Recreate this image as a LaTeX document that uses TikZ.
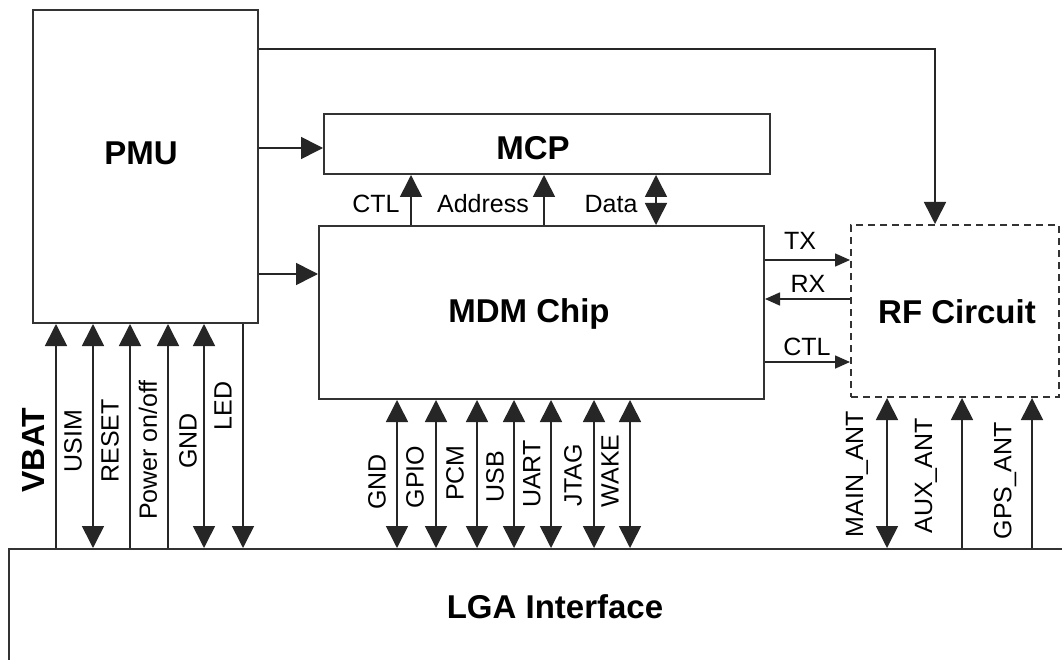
\documentclass[tikz,border=0pt]{standalone}
\usepackage{fontspec}
\setmainfont{Liberation Sans}
\usetikzlibrary{arrows.meta}
\tikzset{
  bigtip/.tip={Triangle[length=22pt,width=22pt]},
  smalltip/.tip={Triangle[length=15pt,width=13pt]},
  box/.style={draw=black!80, line width=2pt, inner sep=0pt, anchor=north west},
  rfbox/.style={box, dash pattern=on 7pt off 5pt},
  conn/.style={draw=black!85, line width=1.6pt},
  title/.style={font=\fontsize{33}{38}\selectfont\bfseries, anchor=base, inner sep=0pt},
  lbl/.style={font=\fontsize{25}{30}\selectfont, anchor=base, inner sep=0pt},
  vlbl/.style={font=\fontsize{25}{30}\selectfont, rotate=90, anchor=center, inner sep=0pt},
}
\begin{document}
\begin{tikzpicture}[x=1pt,y=-1pt]
\useasboundingbox (0,0) rectangle (1062,660);
\fill[white] (0,0) rectangle (1062,660);

% boxes
\node[box, minimum width=225pt, minimum height=313pt] (pmu) at (32,9) {};
\node[box, minimum width=446pt, minimum height=60pt] (mcp) at (323,113) {};
\node[box, minimum width=445pt, minimum height=173pt] (mdm) at (318,225) {};
\node[rfbox, minimum width=208pt, minimum height=172pt] (rf) at (850,224) {};
\node[box, minimum width=1070pt, minimum height=112pt] (lga) at (8,548) {};

% titles
\node[title] (pmut) at (141,165) {PMU};
\node[title] (mcpt) at (533,160) {MCP};
\node[title] (mdmt) at (529,322) {MDM Chip};
\node[title] (rft) at (957,323) {RF Circuit};
\node[title] (lgat) at (555,618) {LGA Interface};

% PMU outputs
\draw[conn, -bigtip] (pmu.east |- 0,49) -| (935,0 |- rf.north);
\draw[conn, -bigtip] (pmu.east |- 0,148) -- (mcp.west |- 0,148);
\draw[conn, -bigtip] (pmu.east |- 0,274) -- (mdm.west |- 0,274);

% MDM <-> MCP
\draw[conn, -bigtip] (411,0 |- mdm.north) -- (411,0 |- mcp.south);
\draw[conn, -bigtip] (544,0 |- mdm.north) -- (544,0 |- mcp.south);
\draw[conn, bigtip-bigtip] (656,0 |- mdm.north) -- (656,0 |- mcp.south);
\node[lbl] (ctl1) at (376,213) {CTL};
\node[lbl] (addr) at (483,213) {Address};
\node[lbl] (data) at (611,213) {Data};

% MDM <-> RF
\draw[conn, -smalltip] (mdm.east |- 0,260) -- (rf.west |- 0,260);
\draw[conn, -smalltip] (rf.west |- 0,299) -- (mdm.east |- 0,299);
\draw[conn, -smalltip] (mdm.east |- 0,362) -- (rf.west |- 0,362);
\node[lbl] (tx) at (800,250) {TX};
\node[lbl] (rx) at (808,292) {RX};
\node[lbl] (ctl2) at (807,355) {CTL};

% PMU <-> LGA
\draw[conn, -bigtip] (56,0 |- lga.north) -- (56,0 |- pmu.south);
\draw[conn, bigtip-bigtip] (93,0 |- lga.north) -- (93,0 |- pmu.south);
\draw[conn, -bigtip] (130,0 |- lga.north) -- (130,0 |- pmu.south);
\draw[conn, -bigtip] (168,0 |- lga.north) -- (168,0 |- pmu.south);
\draw[conn, bigtip-bigtip] (204,0 |- lga.north) -- (204,0 |- pmu.south);
\draw[conn, -bigtip] (243,0 |- pmu.south) -- (243,0 |- lga.north);
\node[vlbl, font=\fontsize{32}{36}\selectfont\bfseries] (vbat) at (33,450) {VBAT};
\node[vlbl] (usim) at (73,441) {USIM};
\node[vlbl] (reset) at (110,441) {RESET};
\node[vlbl] (pwr) at (148,450) {Power on/off};
\node[vlbl] (gnd1) at (188,441) {GND};
\node[vlbl] (led) at (223,406) {LED};

% MDM <-> LGA
\foreach \x/\n in {397/a,436/b,477/c,514/d,551/e,594/f,630/g}{
  \draw[conn, bigtip-bigtip] (\x,0 |- mdm.south) -- (\x,0 |- lga.north);
}
\node[vlbl] (gnd2) at (377,482) {GND};
\node[vlbl] (gpio) at (415,477) {GPIO};
\node[vlbl] (pcm) at (455,473) {PCM};
\node[vlbl] (usb) at (495,477) {USB};
\node[vlbl] (uart) at (532,474) {UART};
\node[vlbl] (jtag) at (573,475) {JTAG};
\node[vlbl] (wake) at (610,471) {WAKE};

% RF <-> LGA
\draw[conn, bigtip-bigtip] (887,0 |- rf.south) -- (887,0 |- lga.north);
\draw[conn, -bigtip] (962,0 |- lga.north) -- (962,0 |- rf.south);
\draw[conn, -bigtip] (1032,0 |- lga.north) -- (1032,0 |- rf.south);
\node[vlbl] (mainant) at (857,474) {MAIN\_ANT};
\node[vlbl] (auxant) at (926,476) {AUX\_ANT};
\node[vlbl] (gpsant) at (1005,481) {GPS\_ANT};
\end{tikzpicture}
\end{document}
